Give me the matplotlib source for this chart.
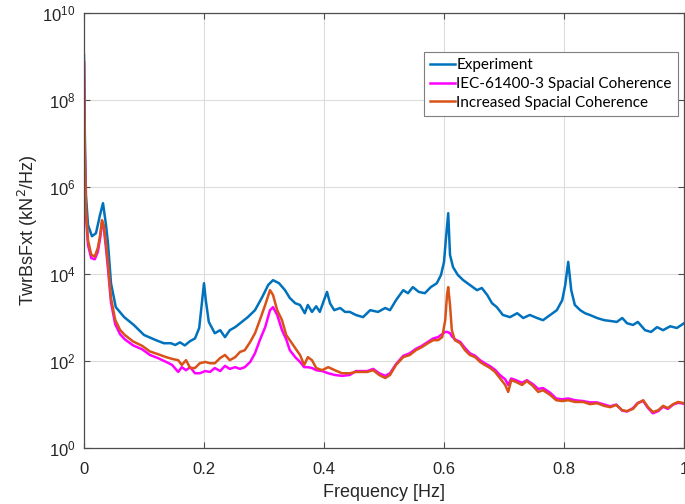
import numpy as np
import matplotlib.pyplot as plt
from matplotlib.ticker import FixedLocator, NullLocator

# Tower base fore-aft shear force spectra, levels given in log10(kN^2/Hz)
freq_exp = [0.0, 0.0017, 0.0033, 0.0067, 0.0133, 0.02, 0.0267, 0.0317, 0.0367, 0.04,
            0.045, 0.053, 0.067, 0.083, 0.1, 0.12, 0.133, 0.145, 0.152, 0.16,
            0.168, 0.177, 0.185, 0.192, 0.197, 0.2, 0.203, 0.208, 0.218, 0.227,
            0.235, 0.243, 0.252, 0.263, 0.273, 0.285, 0.297, 0.307, 0.315, 0.325,
            0.335, 0.343, 0.352, 0.36, 0.368, 0.373, 0.38, 0.387, 0.393, 0.4,
            0.405, 0.41, 0.417, 0.427, 0.435, 0.443, 0.453, 0.465, 0.477, 0.49,
            0.502, 0.51, 0.52, 0.532, 0.54, 0.548, 0.558, 0.568, 0.578, 0.588,
            0.595, 0.6, 0.603, 0.607, 0.61, 0.615, 0.623, 0.632, 0.643, 0.655,
            0.663, 0.672, 0.68, 0.688, 0.698, 0.71, 0.722, 0.732, 0.743, 0.755,
            0.765, 0.777, 0.788, 0.797, 0.802, 0.807, 0.812, 0.818, 0.827, 0.835,
            0.843, 0.855, 0.867, 0.878, 0.888, 0.897, 0.905, 0.915, 0.923, 0.935,
            0.945, 0.955, 0.965, 0.977, 0.988, 1.0]
lvl_exp = [9.03, 6.85, 5.82, 5.13, 4.87, 4.94, 5.36, 5.63, 5.13, 4.71,
           3.79, 3.24, 3.01, 2.83, 2.60, 2.48, 2.41, 2.41, 2.37, 2.43,
           2.36, 2.46, 2.52, 2.76, 3.40, 3.79, 3.40, 2.90, 2.64, 2.71,
           2.55, 2.71, 2.78, 2.90, 3.01, 3.17, 3.47, 3.75, 3.86, 3.79,
           3.63, 3.45, 3.33, 3.29, 3.10, 3.29, 3.13, 3.26, 3.13, 3.40,
           3.59, 3.33, 3.17, 3.22, 3.13, 3.13, 3.06, 3.01, 3.17, 3.13,
           3.22, 3.17, 3.40, 3.63, 3.56, 3.70, 3.59, 3.56, 3.70, 3.79,
           3.98, 4.28, 4.78, 5.40, 4.44, 4.16, 3.98, 3.86, 3.75, 3.63,
           3.68, 3.52, 3.33, 3.24, 3.06, 3.01, 3.10, 2.99, 3.06, 2.99,
           2.94, 3.06, 3.17, 3.40, 3.75, 4.28, 3.63, 3.29, 3.17, 3.10,
           3.06, 2.99, 2.94, 2.92, 2.90, 2.99, 2.87, 2.83, 2.90, 2.71,
           2.67, 2.78, 2.71, 2.80, 2.76, 2.87]

freq_sim = [0.0, 0.0017, 0.0033, 0.0067, 0.012, 0.018, 0.023, 0.027, 0.03, 0.033,
            0.037, 0.04, 0.045, 0.052, 0.06, 0.068, 0.082, 0.097, 0.11, 0.123,
            0.137, 0.147, 0.157, 0.163, 0.17, 0.177, 0.185, 0.193, 0.202, 0.21,
            0.218, 0.227, 0.235, 0.243, 0.252, 0.26, 0.268, 0.277, 0.285, 0.293,
            0.302, 0.31, 0.315, 0.322, 0.33, 0.337, 0.343, 0.352, 0.36, 0.367,
            0.373, 0.38, 0.387, 0.397, 0.407, 0.418, 0.43, 0.443, 0.453, 0.463,
            0.472, 0.482, 0.492, 0.502, 0.51, 0.52, 0.532, 0.543, 0.553, 0.563,
            0.573, 0.582, 0.59, 0.597, 0.602, 0.605, 0.607, 0.61, 0.613, 0.618,
            0.627, 0.635, 0.643, 0.652, 0.66, 0.668, 0.677, 0.685, 0.693, 0.702,
            0.707, 0.712, 0.72, 0.73, 0.738, 0.748, 0.757, 0.765, 0.777, 0.787,
            0.797, 0.807, 0.818, 0.832, 0.843, 0.855, 0.867, 0.877, 0.887, 0.897,
            0.905, 0.915, 0.923, 0.932, 0.94, 0.948, 0.957, 0.965, 0.973, 0.982,
            0.99, 1.0]
lvl_iec = [8.87, 6.50, 5.36, 4.67, 4.37, 4.34, 4.51, 4.83, 5.20, 5.06,
           4.55, 4.12, 3.35, 2.85, 2.62, 2.50, 2.36, 2.27, 2.14, 2.07,
           1.98, 1.91, 1.75, 1.86, 1.79, 1.86, 1.72, 1.72, 1.77, 1.75,
           1.84, 1.77, 1.89, 1.82, 1.86, 1.82, 1.86, 1.98, 2.18, 2.48,
           2.78, 3.17, 3.24, 3.06, 2.71, 2.50, 2.25, 2.09, 1.98, 1.86,
           1.86, 1.84, 1.79, 1.77, 1.72, 1.68, 1.66, 1.68, 1.77, 1.77,
           1.77, 1.82, 1.72, 1.66, 1.72, 1.93, 2.12, 2.18, 2.28, 2.35,
           2.44, 2.52, 2.55, 2.62, 2.67, 2.67, 2.66, 2.64, 2.57, 2.50,
           2.44, 2.30, 2.18, 2.12, 2.02, 1.95, 1.88, 1.80, 1.68, 1.58,
           1.45, 1.60, 1.56, 1.50, 1.56, 1.47, 1.36, 1.38, 1.27, 1.14,
           1.12, 1.14, 1.10, 1.08, 1.05, 1.05, 1.00, 0.96, 1.00, 0.86,
           0.84, 0.92, 1.04, 1.08, 0.92, 0.80, 0.85, 0.95, 0.90, 1.00,
           1.04, 1.02]
lvl_inc = [8.87, 6.62, 5.47, 4.78, 4.45, 4.40, 4.60, 4.90, 5.24, 5.13,
           4.67, 4.25, 3.45, 2.95, 2.72, 2.60, 2.45, 2.35, 2.22, 2.16,
           2.09, 2.05, 2.02, 1.91, 2.02, 1.84, 1.84, 1.95, 1.98, 1.95,
           1.95, 2.07, 2.14, 2.02, 2.09, 2.21, 2.25, 2.44, 2.64, 2.94,
           3.29, 3.63, 3.52, 3.17, 2.94, 2.60, 2.48, 2.30, 2.14, 1.91,
           2.09, 2.02, 1.84, 1.79, 1.86, 1.79, 1.72, 1.72, 1.75, 1.75,
           1.75, 1.79, 1.68, 1.61, 1.68, 1.91, 2.09, 2.14, 2.25, 2.32,
           2.41, 2.48, 2.48, 2.55, 2.94, 3.52, 3.70, 3.29, 2.71, 2.48,
           2.41, 2.25, 2.14, 2.09, 1.98, 1.91, 1.84, 1.75, 1.61, 1.45,
           1.29, 1.56, 1.52, 1.45, 1.54, 1.43, 1.29, 1.33, 1.22, 1.10,
           1.08, 1.10, 1.06, 1.06, 1.01, 1.03, 0.97, 0.94, 0.99, 0.87,
           0.85, 0.90, 1.03, 1.10, 0.94, 0.83, 0.87, 0.97, 0.92, 1.01,
           1.06, 1.03]

labels = ['Experiment', 'IEC-61400-3 Spacial Coherence', 'Increased Spacial Coherence']
colors = ['#0072BD', '#FF00FF', '#D95319']
txt_color = '#262626'

fig = plt.figure(figsize=(6.85, 5.04), dpi=100)
ax = fig.add_axes([0.1226, 0.111, 0.876, 0.863])

ax.plot(freq_exp, 10.0 ** np.array(lvl_exp), color=colors[0], lw=1.8, label=labels[0])
ax.plot(freq_sim, 10.0 ** np.array(lvl_iec), color=colors[1], lw=1.8, label=labels[1])
ax.plot(freq_sim, 10.0 ** np.array(lvl_inc), color=colors[2], lw=1.8, label=labels[2])

ax.set_yscale('log')
ax.set_xlim(0, 1)
ax.set_ylim(1e0, 1e10)
ax.yaxis.set_major_locator(FixedLocator([1e0, 1e2, 1e4, 1e6, 1e8, 1e10]))
ax.yaxis.set_minor_locator(NullLocator())
ax.set_xticks([0, 0.2, 0.4, 0.6, 0.8, 1])
ax.set_xticklabels(['0', '0.2', '0.4', '0.6', '0.8', '1'])

ax.grid(True, color='#dcdcdc', lw=0.8)
ax.set_axisbelow(True)
for sp in ax.spines.values():
    sp.set_color('#4d4d4d')
    sp.set_linewidth(0.9)
ax.tick_params(direction='in', length=4, width=0.8, colors='#4d4d4d',
               labelcolor=txt_color, labelsize=12, top=True, right=True)
ax.tick_params(axis='x', pad=10)
ax.tick_params(axis='y', pad=6)
for lab in ax.get_xticklabels() + ax.get_yticklabels():
    lab.set_family('Liberation Sans')

ax.set_xlabel('Frequency [Hz]', fontsize=13, color=txt_color, family='Liberation Sans', labelpad=5)
ax.set_ylabel('TwrBsFxt (kN$^2$/Hz)', fontsize=13, color=txt_color, family='Liberation Sans', labelpad=2)

leg = ax.legend(loc='upper left', bbox_to_anchor=(0.567, 0.91), fancybox=False,
                edgecolor='#7f7f7f', framealpha=1, handlelength=1.6, handletextpad=0.1,
                borderpad=0.4, labelspacing=0.3, borderaxespad=0,
                prop={'family': 'Lato', 'size': 11})
leg.get_frame().set_linewidth(0.8)

fig.savefig('out.png', dpi=100)
plt.close(fig)
